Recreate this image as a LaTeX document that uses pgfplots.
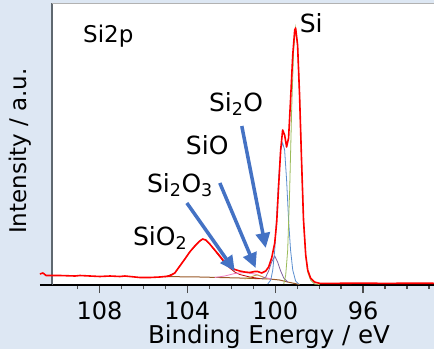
\documentclass[border=0pt]{standalone}
\usepackage{fontspec}
\setmainfont{DejaVu Sans}
\usepackage{pgfplots}
\pgfplotsset{compat=1.18}
\usetikzlibrary{arrows.meta}
\definecolor{bg}{HTML}{DDE7F3}
\definecolor{sigreen}{HTML}{9BBB59}
\definecolor{sioblue}{HTML}{5B8FD0}
\definecolor{sipurple}{HTML}{8064A2}
\definecolor{sipink}{HTML}{F07AC0}
\definecolor{sibrown}{HTML}{9A5A28}
\definecolor{siolive}{HTML}{C0A040}
\definecolor{sidark}{HTML}{C00000}
\definecolor{arrowblue}{HTML}{4472C4}
\definecolor{leftline}{HTML}{5F6870}
\begin{document}
\begin{tikzpicture}[x=1pt,y=1pt]
\path[use as bounding box, fill=bg] (0,0) rectangle (434,349);
\begin{axis}[
  at={(52pt,64pt)}, anchor=south west,
  scale only axis, width=382pt, height=282pt,
  x dir=reverse, xmin=92.77, xmax=110.16, ymin=0, ymax=282,
  axis background/.style={fill=white},
  axis x line*=bottom, axis y line*=left,
  x axis line style={black, line width=1.2pt},
  y axis line style={leftline, line width=2pt},
  ytick=\empty,
  xtick={96,100,104,108},
  minor xtick={93,94,95,97,98,99,101,102,103,105,106,107,109},
  tick align=outside,
  major tick length=8pt, minor tick length=4pt,
  every tick/.style={black!70, line width=1.2pt},
  /pgf/number format/assume math mode=true,
  xticklabel style={font=\fontsize{24}{24}\selectfont, inner sep=0pt, yshift=-8pt},
  clip=false,
]
% Shirley background
\addplot[sibrown, line width=1pt] coordinates {
(105.25,8.5) (103.43,8) (101.61,7) (100.25,6) (99.80,5) (99.43,3) (99.11,1.5) (98.89,0.5)};
% SiO2 component
\addplot[sidark, line width=0.8pt] coordinates {
(105.02,8) (104.57,12) (104.34,19) (103.89,33) (103.43,44) (103.30,46) (103.16,45) (102.98,41) (102.75,34.5) (102.52,28) (102.30,22) (102.07,17) (101.84,13) (101.61,10.5) (101.16,8) (100.71,6.5)};
% Si2O3 component
\addplot[sipink, line width=0.8pt] coordinates {
(102.75,7.5) (102.30,9) (101.84,11.5) (101.39,12.5) (100.93,11) (100.48,7.5) (100.16,6)};
% small olive component
\addplot[siolive, line width=0.8pt] coordinates {
(101.39,6) (101.16,7.5) (100.93,9.5) (100.80,10) (100.61,8.5) (100.39,6)};
% Si2O component
\addplot[sipurple, line width=0.8pt] coordinates {
(100.61,6) (100.43,8) (100.30,14) (100.16,23) (100.02,29) (99.89,23) (99.75,14) (99.61,7) (99.43,3)};
% SiO / Si 2p1/2 component
\addplot[sioblue, line width=0.8pt] coordinates {
(100.34,1) (100.20,5) (100.11,15) (100.02,35) (99.93,70) (99.84,107) (99.75,135) (99.66,142) (99.57,135) (99.48,105) (99.39,65) (99.30,35) (99.20,15) (99.07,4) (98.93,1)};
% Si component
\addplot[sigreen, line width=0.8pt] coordinates {
(99.61,1) (99.52,10) (99.43,35) (99.34,95) (99.25,175) (99.16,235) (99.07,257) (98.98,240) (98.89,190) (98.80,125) (98.71,65) (98.61,30) (98.52,13) (98.39,5) (98.21,1) (97.98,0.5)};
% measured envelope
\addplot[red, line width=1.6pt, line join=round] coordinates {
(110.71,11) (110.57,12) (110.43,9.5) (109.80,9.5) (109.11,9) (108.89,9.5) (108.43,9) (107.98,8.5) (107.52,9) (107.07,8.5) (106.84,9) (106.16,7.5) (105.70,7.5) (105.25,8) (104.80,9) (104.57,12) (104.34,19) (104.11,26) (103.89,33) (103.66,39) (103.43,44) (103.30,46) (103.16,45) (102.98,41) (102.75,35) (102.52,29) (102.30,23) (102.07,18) (101.84,15.5) (101.61,14) (101.39,13) (101.16,12.5) (100.93,13.5) (100.80,13.5) (100.61,12) (100.43,14) (100.30,18) (100.16,27) (100.02,42) (99.93,63) (99.84,100) (99.75,135) (99.66,155) (99.57,150) (99.48,138) (99.39,147) (99.30,185) (99.20,230) (99.11,255) (99.07,257) (98.98,240) (98.89,190) (98.80,125) (98.71,65) (98.61,30) (98.52,15) (98.39,7) (98.21,3) (97.98,1.7) (97.07,1.7) (96.00,1.9) (95.00,1.6) (94.00,1.8) (92.77,1.7)};
% axis extras
\draw[black, line width=1.2pt] (axis cs:110.71,0) -- (axis cs:110.16,0);
\draw[gray!60, line width=0.8pt] (rel axis cs:0,1) -- (rel axis cs:1,1);
% arrows
\draw[arrowblue, line width=3.5pt, -{Triangle[length=15pt,width=14pt]}] (axis cs:104.02,82) -- (axis cs:101.84,14);
\draw[arrowblue, line width=3.5pt, -{Triangle[length=15pt,width=14pt]}] (axis cs:102.52,102) -- (axis cs:100.89,17);
\draw[arrowblue, line width=3.5pt, -{Triangle[length=15pt,width=14pt]}] (axis cs:101.52,159) -- (axis cs:100.43,37);
% labels
\node[anchor=base west, inner sep=0pt, font=\fontsize{23}{23}\selectfont] at (axis cs:108.75,243) {Si2p};
\node[anchor=base west, inner sep=0pt, font=\fontsize{25}{25}\selectfont] at (axis cs:98.89,253) {Si};
\node[anchor=base west, inner sep=0pt, font=\fontsize{25}{25}\selectfont] at (axis cs:103.02,173.5) {Si\textsubscript{2}O};
\node[anchor=base west, inner sep=0pt, font=\fontsize{25}{25}\selectfont] at (axis cs:104.07,131) {SiO};
\node[anchor=base west, inner sep=0pt, font=\fontsize{25}{25}\selectfont] at (axis cs:105.84,93) {Si\textsubscript{2}O\textsubscript{3}};
\node[anchor=base west, inner sep=0pt, font=\fontsize{25}{25}\selectfont] at (axis cs:106.48,40) {SiO\textsubscript{2}};
\end{axis}
\node[anchor=base, inner sep=0pt, font=\fontsize{24.5}{24.5}\selectfont] at (269,6) {Binding Energy / eV};
\node[anchor=base, rotate=90, inner sep=0pt, font=\fontsize{23}{23}\selectfont] at (27,198) {Intensity / a.u.};
\end{tikzpicture}
\end{document}
